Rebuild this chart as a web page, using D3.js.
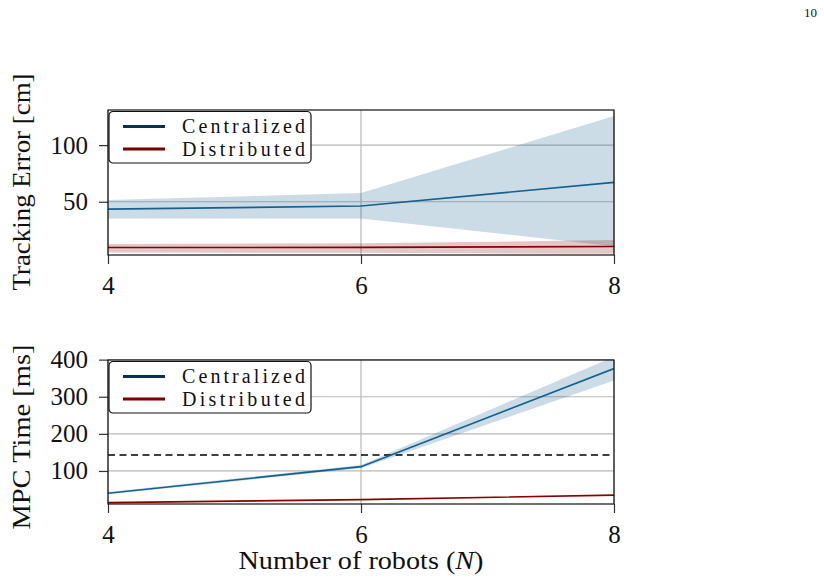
<!DOCTYPE html>
<html>
<head>
<meta charset="utf-8">
<script src="https://cdn.jsdelivr.net/npm/d3@7"></script>
<style>
  body { margin: 0; background: #fff; }
  text { font-family: "Liberation Serif", "DejaVu Serif", serif; fill: #111; }
</style>
</head>
<body>
<svg id="chart" width="824" height="584"></svg>
<script>
// Data
const robots = [4, 6, 8];

const trackCentral = [43.5, 46.2, 67.1];
const trackCentralLo = [35.3, 35.3, 10.8];
const trackCentralHi = [51.5, 57.7, 125.6];
const trackDistrib = [9.6, 9.7, 10.5];
const trackDistribLo = [5.1, 5.0, 4.0];
const trackDistribHi = [12.7, 13.3, 16.2];

const mpcCentral = [40, 111.6, 376];
const mpcCentralLo = [37, 107, 344];
const mpcCentralHi = [43, 116, 408];
const mpcDistrib = [14.8, 22.7, 35];
const mpcLimit = 143;

const xTicks = [4, 6, 8];
const trackTicks = [50, 100];
const mpcTicks = [100, 200, 300, 400];
const seriesNames = ['Centralized', 'Distributed'];

const blue = '#15608e';
const blueLegend = '#0b3050';
const red = '#860000';
const redLegend = '#7a0000';

const svg = d3.select('#chart');

const left = 108, right = 614;
const x = d3.scaleLinear().domain([4, 8]).range([left, right]);

// Page number in the corner
svg.append('text')
  .attr('x', 817).attr('y', 17)
  .attr('text-anchor', 'end')
  .style('font-size', '13px')
  .text('10');

function panel(opts) {
  const y = d3.scaleLinear().domain(opts.domain).range([opts.bottom, opts.top]);
  const g = svg.append('g');
  const clipId = 'clip' + opts.top;

  g.append('clipPath').attr('id', clipId)
    .append('rect')
    .attr('x', left).attr('y', opts.top)
    .attr('width', right - left).attr('height', opts.bottom - opts.top);

  // grid
  g.append('g').selectAll('line.h').data(opts.yTicks).join('line')
    .attr('x1', left).attr('x2', right)
    .attr('y1', d => y(d)).attr('y2', d => y(d))
    .attr('stroke', '#b8b8b8').attr('stroke-width', 1.2);
  g.append('g').selectAll('line.v').data(xTicks).join('line')
    .attr('x1', d => x(d)).attr('x2', d => x(d))
    .attr('y1', opts.top).attr('y2', opts.bottom)
    .attr('stroke', '#b8b8b8').attr('stroke-width', 1.2);

  const plot = g.append('g').attr('clip-path', `url(#${clipId})`);

  // bands
  opts.series.forEach(s => {
    if (!s.lo) return;
    const area = d3.area()
      .x((d, i) => x(robots[i]))
      .y0((d, i) => y(s.lo[i]))
      .y1((d, i) => y(s.hi[i]));
    plot.append('path')
      .datum(s.values)
      .attr('d', area)
      .attr('fill', s.color)
      .attr('fill-opacity', 0.22);
  });

  if (opts.limit != null) {
    plot.append('line')
      .attr('x1', left).attr('x2', right)
      .attr('y1', y(opts.limit)).attr('y2', y(opts.limit))
      .attr('stroke', '#000').attr('stroke-width', 1.5)
      .attr('stroke-dasharray', '7,4.5');
  }

  // lines
  opts.series.forEach(s => {
    const line = d3.line()
      .x((d, i) => x(robots[i]))
      .y(d => y(d));
    plot.append('path')
      .datum(s.values)
      .attr('d', line)
      .attr('fill', 'none')
      .attr('stroke', s.color)
      .attr('stroke-width', 1.6);
  });

  // axes
  const yAxis = g.append('g')
    .attr('transform', `translate(${left},0)`)
    .call(d3.axisLeft(y).tickValues(opts.yTicks).tickSize(9).tickPadding(11).tickFormat(d3.format('d')));
  const xAxis = g.append('g')
    .attr('transform', `translate(0,${opts.bottom})`)
    .call(d3.axisBottom(x).tickValues(xTicks).tickSize(9).tickPadding(12).tickFormat(d3.format('d')));
  [yAxis, xAxis].forEach(a => {
    a.select('.domain').remove();
    a.selectAll('line').attr('stroke', '#333').attr('stroke-width', 1.2);
    a.selectAll('text')
      .style('font-family', '"Liberation Serif", "DejaVu Serif", serif')
      .style('font-size', '25px').attr('fill', '#111');
  });

  // frame
  g.append('rect')
    .attr('x', left).attr('y', opts.top)
    .attr('width', right - left).attr('height', opts.bottom - opts.top)
    .attr('fill', 'none').attr('stroke', '#111').attr('stroke-width', 1.2);

  // y label
  g.append('text')
    .attr('transform', `translate(30,${opts.labelY}) rotate(-90)`)
    .attr('text-anchor', 'middle')
    .attr('textLength', opts.labelLen)
    .attr('lengthAdjust', 'spacingAndGlyphs')
    .style('font-size', '25px')
    .text(opts.label);

  // legend
  const lg = g.append('g').attr('transform', `translate(${left + 1},${opts.top + 1.5})`);
  lg.append('rect')
    .attr('width', 202).attr('height', 51.5)
    .attr('rx', 4)
    .attr('fill', '#fff').attr('stroke', '#111').attr('stroke-width', 1.2);
  seriesNames.forEach((name, i) => {
    const ly = 15 + i * 22.6;
    lg.append('line')
      .attr('x1', 14).attr('x2', 56)
      .attr('y1', ly).attr('y2', ly)
      .attr('stroke', i === 0 ? blueLegend : redLegend)
      .attr('stroke-width', 3);
    lg.append('text')
      .attr('x', 73).attr('y', ly + 6.5)
      .attr('textLength', 123)
      .attr('lengthAdjust', 'spacing')
      .style('font-size', '20px')
      .text(name);
  });
}

panel({
  top: 110, bottom: 255, domain: [3, 131],
  yTicks: trackTicks,
  series: [
    { values: trackCentral, lo: trackCentralLo, hi: trackCentralHi, color: blue },
    { values: trackDistrib, lo: trackDistribLo, hi: trackDistribHi, color: red }
  ],
  label: 'Tracking Error [cm]', labelY: 182, labelLen: 217
});

panel({
  top: 360, bottom: 504, domain: [11, 399],
  yTicks: mpcTicks,
  series: [
    { values: mpcCentral, lo: mpcCentralLo, hi: mpcCentralHi, color: blue },
    { values: mpcDistrib, color: red }
  ],
  limit: mpcLimit,
  label: 'MPC Time [ms]', labelY: 437, labelLen: 185
});

// x label
const xl = svg.append('text')
  .attr('x', 361).attr('y', 569)
  .attr('text-anchor', 'middle')
  .attr('textLength', 245)
  .attr('lengthAdjust', 'spacingAndGlyphs')
  .style('font-size', '25px');
xl.append('tspan').text('Number of robots (');
xl.append('tspan').style('font-style', 'italic').text('N');
xl.append('tspan').text(')');
</script>
</body>
</html>
